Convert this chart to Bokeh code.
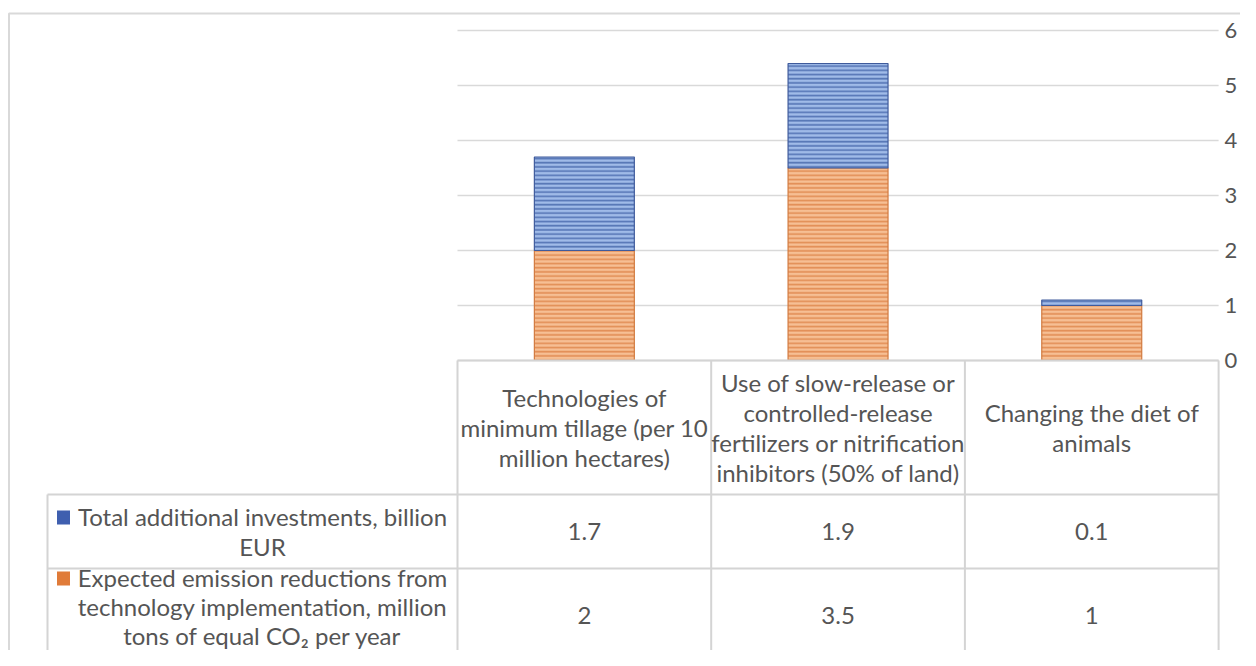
from bokeh.plotting import figure
from bokeh.models import Range1d, FixedTicker, LinearAxis
from bokeh.embed import file_html
from bokeh.resources import INLINE
from bokeh.core.properties import value

# ---------------- data ----------------
categories = [
    "Technologies of\nminimum tillage (per 10\nmillion hectares)",
    "Use of slow-release or\ncontrolled-release\nfertilizers or nitrification\ninhibitors (50% of land)",
    "Changing the diet of\nanimals",
]
investments = [1.7, 1.9, 0.1]
emissions = [2, 3.5, 1]
series_names = [
    "Total additional investments, billion\nEUR",
    "Expected emission reductions from\ntechnology implementation, million\ntons of equal CO\u2082 per year",
]
y_ticks = [0, 1, 2, 3, 4, 5, 6]

# ---------------- layout helpers (canvas pixels -> data) ----------------
W, H = 1240, 650
X0, CW = 457.0, 253.7        # canvas x of first column edge, column width
Y0, U = 360.0, 55.0          # canvas y of value 0, pixels per unit

def px_x(px):
    return (px - X0) / CW

def px_y(py):
    return (Y0 - py) / U

FNAME = "Lato"
FONT = value(FNAME)
TXT = "#555555"
GRID = "#d9d9d9"
TLINE = "#d4d4d4"
FS = "24px"
LH = 1.04

p = figure(width=W, height=H,
           x_range=Range1d(px_x(0), px_x(W)),
           y_range=Range1d(px_y(H), px_y(0)),
           toolbar_location=None, output_backend="svg",
           x_axis_location=None, y_axis_location=None,
           min_border=0)
p.xgrid.visible = False
p.ygrid.visible = False
p.outline_line_color = None
p.background_fill_color = "white"
p.border_fill_color = "white"

yax = LinearAxis(fixed_location=px_x(1218), ticker=FixedTicker(ticks=y_ticks))
yax.axis_line_color = None
yax.major_tick_line_color = None
yax.minor_tick_line_color = None
yax.major_tick_out = 0
yax.major_tick_in = 0
yax.minor_tick_out = 0
yax.major_label_standoff = 6
yax.major_label_text_font = FNAME
yax.major_label_text_font_size = "22px"
yax.major_label_text_color = TXT
p.add_layout(yax, "right")

# chart border (top and left visible)
p.line(x=[px_x(8.5), px_x(8.5), px_x(W + 20)], y=[px_y(700), px_y(13), px_y(13)],
       line_color="#d9d9d9", line_width=2)

# gridlines
ncat = len(categories)
p.segment(x0=[0] * len(y_ticks), x1=[ncat] * len(y_ticks), y0=y_ticks, y1=y_ticks,
          line_color=GRID, line_width=1.5)

# bars
xs = [i + 0.5 for i in range(ncat)]
tops = [e + i for e, i in zip(emissions, investments)]
BW = 0.394
p.vbar(x=xs, bottom=0, top=emissions, width=BW,
       fill_color="#f6bf94", line_color="#d27b40", line_width=1.2,
       hatch_pattern="horizontal_line", hatch_color="#e08a50",
       hatch_scale=4.2, hatch_weight=1.7, hatch_alpha=0.9)
p.vbar(x=xs, bottom=emissions, top=tops, width=BW,
       fill_color="#a0bbe8", line_color="#3f5b9c", line_width=1.2,
       hatch_pattern="horizontal_line", hatch_color="#4f6fb0",
       hatch_scale=4.2, hatch_weight=1.7, hatch_alpha=0.9)

# ---------------- data table ----------------
row_h = px_y(494)
row_1 = px_y(568)
bottom = px_y(720)
left_col = px_x(47)
# horizontal lines
p.segment(x0=[0, left_col, left_col], x1=[ncat, ncat, ncat],
          y0=[0, row_h, row_1], y1=[0, row_h, row_1],
          line_color=TLINE, line_width=2)
# vertical lines
p.segment(x0=list(range(ncat + 1)) + [left_col], x1=list(range(ncat + 1)) + [left_col],
          y0=[0] * (ncat + 1) + [row_h], y1=[bottom] * (ncat + 2),
          line_color=TLINE, line_width=2)

p.text(x=xs, y=[px_y(427)] * ncat, text=categories,
       text_align="center", text_baseline="middle", text_line_height=LH,
       text_font=FONT, text_font_size=FS, text_color=TXT)

row_centers = [px_y(531), px_y(615)]
series_vals = [investments, emissions]
for rc, vals in zip(row_centers, series_vals):
    p.text(x=xs, y=[rc] * ncat, text=[f"{v:g}" for v in vals],
           text_align="center", text_baseline="middle",
           text_font=FONT, text_font_size=FS, text_color=TXT)

legend_centers = [px_y(531), px_y(606)]
p.text(x=[px_x(262)] * 2, y=legend_centers, text=series_names,
       text_align="center", text_baseline="middle", text_line_height=[LH, 0.99],
       text_font=FONT, text_font_size=FS, text_color=TXT)

# legend keys
p.rect(x=[px_x(63)] * 2, y=[px_y(517), px_y(578)], width=13, height=14,
       width_units="screen", height_units="screen",
       fill_color=["#3f5faf", "#e07b39"], line_color=None)

open("out.html", "w").write(file_html(p, INLINE))
